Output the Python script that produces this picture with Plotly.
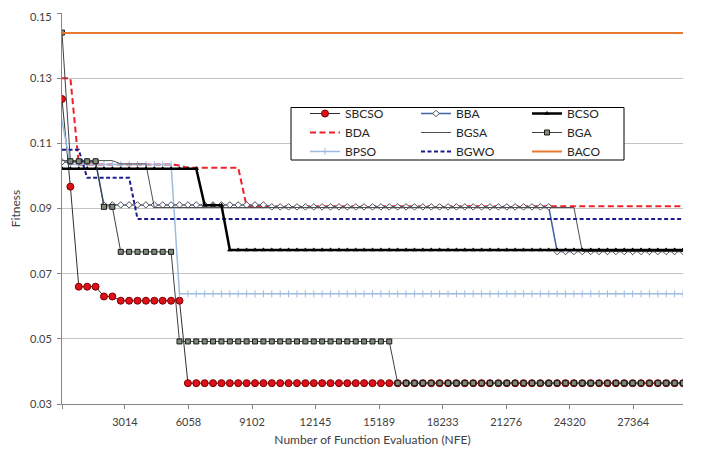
import plotly.graph_objects as go

# Sample positions (NFE) at which every series was recorded
NFE = [0, 402, 804, 1206, 1608, 2010, 2412, 2814, 3216, 3618, 4020, 4422, 4824,
       5226, 5628, 6030, 6432, 6834, 7236, 7638, 8040, 8442, 8844, 9246, 9648,
       10050, 10452, 10854, 11256, 11658, 12060, 12462, 12864, 13266, 13668,
       14070, 14472, 14874, 15276, 15678, 16080, 16482, 16884, 17286, 17688,
       18090, 18492, 18894, 19296, 19698, 20100, 20502, 20904, 21306, 21708,
       22110, 22512, 22914, 23316, 23718, 24120, 24522, 24924, 25326, 25728,
       26130, 26532, 26934, 27336, 27738, 28140, 28542, 28944, 29346, 29748]

# Fitness values (run-length written)
SBCSO = [0.1236, 0.0967] + [0.0660]*3 + [0.0630]*2 + [0.0617]*8 + [0.0364]*60
BBA = [0.1043]*5 + [0.0911]*20 + [0.0905]*34 + [0.0768]*16
BCSO = [0.1022]*17 + [0.0910]*3 + [0.0773]*55
BDA = [0.1300]*2 + [0.1035]*12 + [0.1032] + [0.1025]*7 + [0.0907]*53
BGSA = [0.1047]*7 + [0.1037]*4 + [0.0903]*51 + [0.0768]*13
BGA = [0.1440] + [0.1045]*4 + [0.0905]*2 + [0.0767]*7 + [0.0492]*26 + [0.0364]*35
BPSO = [0.1168] + [0.1035]*13 + [0.0638]*61
BGWO = [0.1080]*3 + [0.0994]*6 + [0.0868]*66
BACO = [0.1439]*75

X_TICKS = [3014, 6058, 9102, 12145, 15189, 18233, 21276, 24320, 27364]
Y_TICKS = [0.03, 0.05, 0.07, 0.09, 0.11, 0.13, 0.15]

FONT = "Lato"

fig = go.Figure()

def add(name, y, legend, line, marker=None):
    mode = "lines+markers" if marker else "lines"
    fig.add_trace(go.Scatter(x=NFE, y=y, name=name, mode=mode, line=line,
                             marker=marker, legend=legend))

# column 1
add("SBCSO", SBCSO, "legend", dict(color="#303030", width=1),
    dict(symbol="circle", size=7, color="#E0101A", line=dict(color="#7A0000", width=1)))
add("BDA", BDA, "legend", dict(color="#F0202A", width=2, dash="6px,3.5px"))
add("BPSO", BPSO, "legend", dict(color="#9DBBDF", width=1.5),
    dict(symbol="line-ns", size=5, color="#9DBBDF", line=dict(color="#9DBBDF", width=1)))
# column 2
add("BBA", BBA, "legend2", dict(color="#4163A3", width=1.5),
    dict(symbol="diamond", size=5, color="white", line=dict(color="#505050", width=1)))
add("BGSA", BGSA, "legend2", dict(color="#505050", width=1))
add("BGWO", BGWO, "legend2", dict(color="#1C1C8C", width=2, dash="4px,2.5px"))
# column 3
add("BCSO", BCSO, "legend3", dict(color="#000000", width=2.5),
    dict(symbol="triangle-up", size=5, color="#000000"))
add("BGA", BGA, "legend3", dict(color="#404040", width=1),
    dict(symbol="square", size=5, color="#7E8C78", line=dict(color="#1A1A1A", width=1)))
add("BACO", BACO, "legend3", dict(color="#E67A2E", width=2))

# page offset of the plot div (default body margin)
OFF = 8
# plot area in page pixels
PL, PR, PT, PB = 62, 683, 13, 404
W, H = 702 - OFF, 449 - OFF
L, T = PL - OFF, PT - OFF
R, B = W - (PR - OFF), H - (PB - OFF)
pw, ph = PR - PL, PB - PT

def px_x(p):
    return (p - PL) / pw

def px_y(p):
    return 1 - (p - PT) / ph

leg_common = dict(orientation="v", xanchor="left", yanchor="top",
                  bgcolor="rgba(0,0,0,0)", borderwidth=0, tracegroupgap=0,
                  font=dict(family=FONT, size=12, color="#262626"), itemwidth=30)
leg_top = px_y(99)

# the top y label is written as an annotation nudged inside the page
y_text = ["%.2f" % v for v in Y_TICKS]
top_label = y_text[-1]
y_text[-1] = ""

fig.update_layout(
    width=W, height=H,
    margin=dict(l=L, r=R, t=T, b=B, autoexpand=False),
    paper_bgcolor="white", plot_bgcolor="white",
    font=dict(family=FONT, size=11, color="#404040"),
    legend=dict(x=px_x(305), y=leg_top, **leg_common),
    legend2=dict(x=px_x(416), y=leg_top, **leg_common),
    legend3=dict(x=px_x(527), y=leg_top, **leg_common),
    shapes=[dict(type="rect", xref="paper", yref="paper",
                 x0=px_x(291), x1=px_x(624), y0=px_y(160), y1=px_y(107.5),
                 fillcolor="white", line=dict(color="#000000", width=1),
                 layer="above")],
    annotations=[dict(text=top_label, xref="paper", yref="y", x=0, y=Y_TICKS[-1],
                      xanchor="right", yanchor="middle", showarrow=False,
                      xshift=-8, yshift=-3,
                      font=dict(family=FONT, size=11, color="#404040"))],
    xaxis=dict(range=[0, NFE[-1]], tickvals=[0] + X_TICKS,
               ticktext=[""] + [str(v) for v in X_TICKS],
               ticks="outside", ticklen=4, tickcolor="#868686",
               ticklabelstandoff=4,
               showline=True, linecolor="#868686", linewidth=1,
               showgrid=False, zeroline=False,
               tickfont=dict(family=FONT, size=11, color="#404040"),
               title=dict(text="Number of Function Evaluation (NFE)",
                          font=dict(family=FONT, size=12, color="#404040"),
                          standoff=8)),
    yaxis=dict(range=[0.03, 0.15], tickvals=Y_TICKS, ticktext=y_text,
               ticks="outside", ticklen=4, tickcolor="#868686",
               ticklabelstandoff=3,
               showline=True, linecolor="#868686", linewidth=1,
               showgrid=True, gridcolor="#C4C4C4", gridwidth=1, zeroline=False,
               tickfont=dict(family=FONT, size=11, color="#404040"),
               title=dict(text="Fitness",
                          font=dict(family=FONT, size=12, color="#404040"),
                          standoff=8)),
)

fig.write_html("out.html")
